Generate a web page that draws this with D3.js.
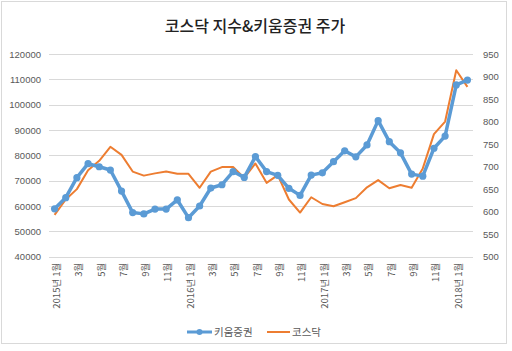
<!DOCTYPE html>
<html>
<head>
<meta charset="utf-8">
<script src="https://cdn.jsdelivr.net/npm/d3@7"></script>
<style>
  html, body { margin: 0; padding: 0; background: #fff; }
  svg { display: block; }
</style>
</head>
<body>
<svg id="chart" width="512" height="351"></svg>
<script>
const title = "코스닥 지수&키움증권 주가";
const categories = [
  "2015년 1월","2월","3월","4월","5월","6월","7월","8월","9월","10월","11월","12월",
  "2016년 1월","2월","3월","4월","5월","6월","7월","8월","9월","10월","11월","12월",
  "2017년 1월","2월","3월","4월","5월","6월","7월","8월","9월","10월","11월","12월",
  "2018년 1월","2월"
];
const seriesNames = ["키움증권", "코스닥"];
const kiwoom = [58900, 63300, 71200, 76700, 75500, 74200, 65900, 57400, 56900, 58800, 58800, 62400,
  55400, 60000, 67100, 68400, 73600, 71300, 79500, 73600, 72100, 67000, 64200, 72200,
  73100, 77500, 81800, 79400, 84100, 93700, 85400, 81000, 72600, 71800, 82800, 87600,
  107800, 109700];
const kosdaq = [593, 627, 650, 692, 713, 744, 726, 689, 680, 685, 689, 684,
  684, 653, 689, 699, 699, 675, 707, 664, 681, 627, 598, 632,
  617, 612, 621, 630, 654, 670, 652, 659, 653, 696, 772, 800,
  914, 877];
const leftTicks = [40000, 50000, 60000, 70000, 80000, 90000, 100000, 110000, 120000];
const rightTicks = [500, 550, 600, 650, 700, 750, 800, 850, 900, 950];

const svg = d3.select("#chart");
const W = 512, H = 351;
const blue = "#5B9BD5", orange = "#ED7D31", grid = "#D9D9D9", txt = "#595959";
const kfont = "'Noto Sans CJK KR', 'Noto Sans', sans-serif";
const nfont = "'Liberation Sans', Arial, sans-serif";

// chart area border
svg.append("rect").attr("x", 1.5).attr("y", 1.5).attr("width", 505).attr("height", 342)
  .attr("fill", "#fff").attr("stroke", grid).attr("stroke-width", 1);

const plot = { left: 49, right: 473, top: 54, bottom: 256.7 };

const x = d3.scaleBand().domain(categories.map((d, i) => i))
  .range([plot.left, plot.right]).paddingInner(0).paddingOuter(0);
const xc = i => x(i) + x.bandwidth() / 2;
const yL = d3.scaleLinear().domain([40000, 120000]).range([plot.bottom, plot.top]);
const yR = d3.scaleLinear().domain([500, 950]).range([plot.bottom, plot.top]);

// gridlines
svg.append("g").selectAll("line").data(leftTicks).join("line")
  .attr("x1", plot.left).attr("x2", plot.right)
  .attr("y1", d => Math.round(yL(d)) + 0.5).attr("y2", d => Math.round(yL(d)) + 0.5)
  .attr("stroke", grid).attr("stroke-width", 1);

// left axis
const leftAxis = d3.axisLeft(yL).tickValues(leftTicks).tickSize(0).tickPadding(0).tickFormat(d3.format("d"));
const gL = svg.append("g").attr("transform", `translate(${plot.left - 8},0)`).call(leftAxis);
gL.select(".domain").remove();
gL.selectAll("text").attr("fill", txt).attr("font-family", nfont).attr("font-size", "9.5px");

// right axis
const rightAxis = d3.axisRight(yR).tickValues(rightTicks).tickSize(0).tickPadding(0).tickFormat(d3.format("d"));
const gR = svg.append("g").attr("transform", `translate(${plot.right + 10},0)`).call(rightAxis);
gR.select(".domain").remove();
gR.selectAll("text").attr("fill", txt).attr("font-family", nfont).attr("font-size", "9.5px");

// bottom axis (every other label)
const bottomAxis = d3.axisBottom(x).tickSize(0).tickPadding(0)
  .tickValues(categories.map((d, i) => i).filter(i => i % 2 === 0))
  .tickFormat(i => categories[i]);
const gB = svg.append("g").attr("transform", `translate(0,${plot.bottom})`).call(bottomAxis);
gB.select(".domain").remove();
gB.selectAll("text")
  .attr("fill", txt).attr("font-family", kfont).attr("font-size", "9.5px")
  .attr("text-anchor", "end")
  .attr("transform", "rotate(-90)")
  .attr("x", -6).attr("y", 2).attr("dy", "0.35em");

// lines
const lineL = d3.line().x((d, i) => xc(i)).y(d => yL(d));
const lineR = d3.line().x((d, i) => xc(i)).y(d => yR(d));

svg.append("path").datum(kosdaq).attr("d", lineR)
  .attr("fill", "none").attr("stroke", orange).attr("stroke-width", 2)
  .attr("stroke-linejoin", "round");

svg.append("path").datum(kiwoom).attr("d", lineL)
  .attr("fill", "none").attr("stroke", blue).attr("stroke-width", 3.5)
  .attr("stroke-linejoin", "round");
svg.append("g").selectAll("circle").data(kiwoom).join("circle")
  .attr("cx", (d, i) => xc(i)).attr("cy", d => yL(d)).attr("r", 3.6)
  .attr("fill", blue);

// title
svg.append("text").attr("x", 255).attr("y", 32).attr("text-anchor", "middle")
  .attr("font-family", kfont).attr("font-size", "16px").attr("font-weight", "500")
  .attr("fill", "#222").text(title);

// legend
const lg = svg.append("g").attr("transform", "translate(0,332)");
lg.append("line").attr("x1", 187).attr("x2", 212).attr("y1", 0).attr("y2", 0)
  .attr("stroke", blue).attr("stroke-width", 3);
lg.append("circle").attr("cx", 199.5).attr("cy", 0).attr("r", 3).attr("fill", blue);
lg.append("text").attr("x", 214).attr("y", 0).attr("dy", "0.35em")
  .attr("font-family", kfont).attr("font-size", "10.5px").attr("fill", txt).text(seriesNames[0]);
lg.append("line").attr("x1", 267).attr("x2", 290).attr("y1", 0).attr("y2", 0)
  .attr("stroke", orange).attr("stroke-width", 2);
lg.append("text").attr("x", 292).attr("y", 0).attr("dy", "0.35em")
  .attr("font-family", kfont).attr("font-size", "10.5px").attr("fill", txt).text(seriesNames[1]);
</script>
</body>
</html>
